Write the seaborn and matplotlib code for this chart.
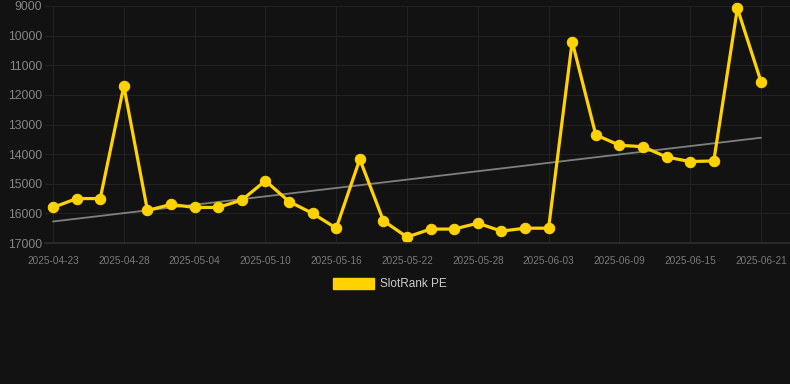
import pandas as pd
import numpy as np
import matplotlib.pyplot as plt
import matplotlib.patches as mpatches
import seaborn as sns

# data (category axis, evenly spaced points)
dates = ['2025-04-23', '2025-04-25', '2025-04-26', '2025-04-28', '2025-04-30',
         '2025-05-02', '2025-05-04', '2025-05-06', '2025-05-08', '2025-05-10',
         '2025-05-12', '2025-05-14', '2025-05-16', '2025-05-18', '2025-05-20',
         '2025-05-22', '2025-05-24', '2025-05-26', '2025-05-28', '2025-05-30',
         '2025-06-01', '2025-06-03', '2025-06-05', '2025-06-07', '2025-06-09',
         '2025-06-11', '2025-06-13', '2025-06-15', '2025-06-17', '2025-06-19',
         '2025-06-21']
ranks = [15800, 15500, 15500, 11700, 15900, 15700, 15800, 15800, 15550, 14900,
         15600, 16000, 16500, 14170, 16250, 16800, 16530, 16530, 16330, 16600,
         16500, 16500, 10200, 13350, 13700, 13750, 14100, 14250, 14230, 9080,
         11550]
y_ticks = [9000, 10000, 11000, 12000, 13000, 14000, 15000, 16000, 17000]

df = pd.DataFrame({'date': dates, 'rank': ranks})
df['pos'] = np.arange(len(df))

# trend line (linear fit)
coef = np.polyfit(df['pos'], df['rank'], 1)
df['trend'] = np.polyval(coef, df['pos'])

bg = '#121212'
yellow = '#FFD200'
sns.set_theme(style='dark')
plt.rcParams['font.family'] = ['Liberation Sans', 'DejaVu Sans']

fig = plt.figure(figsize=(7.9, 3.84), dpi=100, facecolor=bg)
ax = fig.add_axes([45 / 790, 1 - 243 / 384, 1 - 45 / 790, (243 - 6) / 384])
ax.set_facecolor(bg)

sns.lineplot(data=df, x='pos', y='trend', ax=ax, color='#808080', linewidth=1.3)
sns.lineplot(data=df, x='pos', y='rank', ax=ax, color=yellow, linewidth=2.3,
             marker='o', markersize=7.5, markeredgecolor=yellow, clip_on=False)

ax.set_ylim(17000, 9000)
ax.set_yticks(y_ticks)
ax.set_yticklabels([str(v) for v in y_ticks])
ax.set_xlim(-0.34, len(df) - 1 + 1.23)
tick_pos = df['pos'][::3]
ax.set_xticks(tick_pos)
ax.set_xticklabels(df['date'][::3])

ax.grid(True, color='#222222', linewidth=0.8)
ax.tick_params(axis='y', colors='#858585', labelsize=8.8, length=0, pad=2)
ax.tick_params(axis='x', colors='#7a7a7a', labelsize=7.2, length=4,
               color='#2a2a2a', pad=5)
for side in ['top', 'right', 'left']:
    ax.spines[side].set_visible(False)
ax.spines['bottom'].set_color('#2e2e2e')
ax.set_xlabel('')
ax.set_ylabel('')

handle = mpatches.Patch(color=yellow, label='SlotRank PE')
fig.legend(handles=[handle], loc='center', bbox_to_anchor=(390 / 790, 1 - 284 / 384),
           frameon=False, fontsize=8.5, labelcolor='#cccccc',
           handlelength=3.5, handleheight=1.1, handletextpad=0.5)

fig.savefig('out.png', dpi=100, facecolor=bg)
